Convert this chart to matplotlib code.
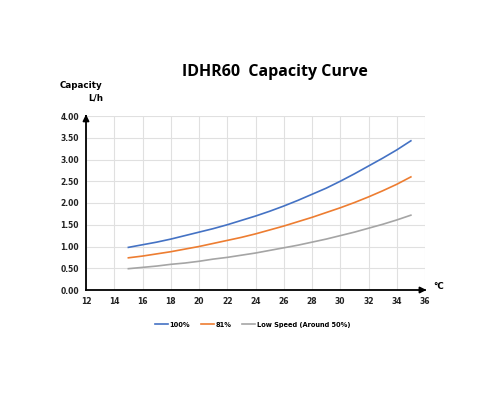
import matplotlib
matplotlib.use('Agg')
import matplotlib.pyplot as plt

# Data
temps = list(range(15, 36))
cap_100 = [0.98, 1.04, 1.10, 1.17, 1.25, 1.33, 1.41, 1.50, 1.60, 1.70, 1.81,
           1.93, 2.06, 2.20, 2.34, 2.50, 2.67, 2.85, 3.03, 3.22, 3.43]
cap_81 = [0.74, 0.78, 0.83, 0.88, 0.94, 1.00, 1.07, 1.14, 1.21, 1.29, 1.38,
          1.47, 1.57, 1.67, 1.78, 1.89, 2.01, 2.14, 2.28, 2.43, 2.60]
cap_low = [0.49, 0.52, 0.55, 0.59, 0.62, 0.66, 0.71, 0.75, 0.80, 0.85, 0.91,
           0.97, 1.03, 1.10, 1.17, 1.25, 1.33, 1.42, 1.51, 1.61, 1.72]
x_ticks = list(range(12, 37, 2))
y_ticks = [0, 0.5, 1.0, 1.5, 2.0, 2.5, 3.0, 3.5, 4.0]

fig = plt.figure(figsize=(5, 4), dpi=100)
ax = fig.add_axes([0.172, 0.275, 0.678, 0.435])

ax.plot(temps, cap_100, color='#4472C4', linewidth=1.2, label='100%')
ax.plot(temps, cap_81, color='#ED7D31', linewidth=1.2, label='81%')
ax.plot(temps, cap_low, color='#A5A5A5', linewidth=1.2, label='Low Speed (Around 50%)')

ax.set_xlim(12, 36)
ax.set_ylim(0, 4)
ax.set_xticks(x_ticks)
ax.set_yticks(y_ticks)
ax.set_yticklabels([f'{v:.2f}' for v in y_ticks])
ax.tick_params(length=0, labelsize=5.5, pad=5, labelcolor='#222222')
for lab in ax.get_xticklabels() + ax.get_yticklabels():
    lab.set_fontweight('bold')
ax.grid(True, color='#E0E0E0', linewidth=0.8)
ax.set_axisbelow(True)
for s in ['top', 'right']:
    ax.spines[s].set_visible(False)
ax.spines['left'].set_linewidth(1.3)
ax.spines['bottom'].set_linewidth(1.3)

# axis arrows
ax.annotate('', xy=(36.3, 0), xytext=(35.5, 0), annotation_clip=False,
            arrowprops=dict(arrowstyle='-|>', color='black', lw=1.3, mutation_scale=9))
ax.annotate('', xy=(12, 4.1), xytext=(12, 3.9), annotation_clip=False,
            arrowprops=dict(arrowstyle='-|>', color='black', lw=1.3, mutation_scale=9))

fig.text(0.55, 0.82, 'IDHR60  Capacity Curve', ha='center', va='center',
         fontsize=11.5, fontweight='bold', family='Open Sans')
fig.text(0.162, 0.787, 'Capacity', ha='center', va='center', fontsize=6.3, fontweight='bold')
fig.text(0.192, 0.755, 'L/h', ha='center', va='center', fontsize=6.3, fontweight='bold')
fig.text(0.877, 0.283, '°C', ha='center', va='center', fontsize=6.3, fontweight='bold')

fig.legend(loc='center', bbox_to_anchor=(0.505, 0.188), ncol=3, frameon=False,
           prop={'size': 4.8, 'weight': 'bold'}, handlelength=2.0, columnspacing=1.6,
           handletextpad=0.2)

fig.savefig('out.png', dpi=100)
